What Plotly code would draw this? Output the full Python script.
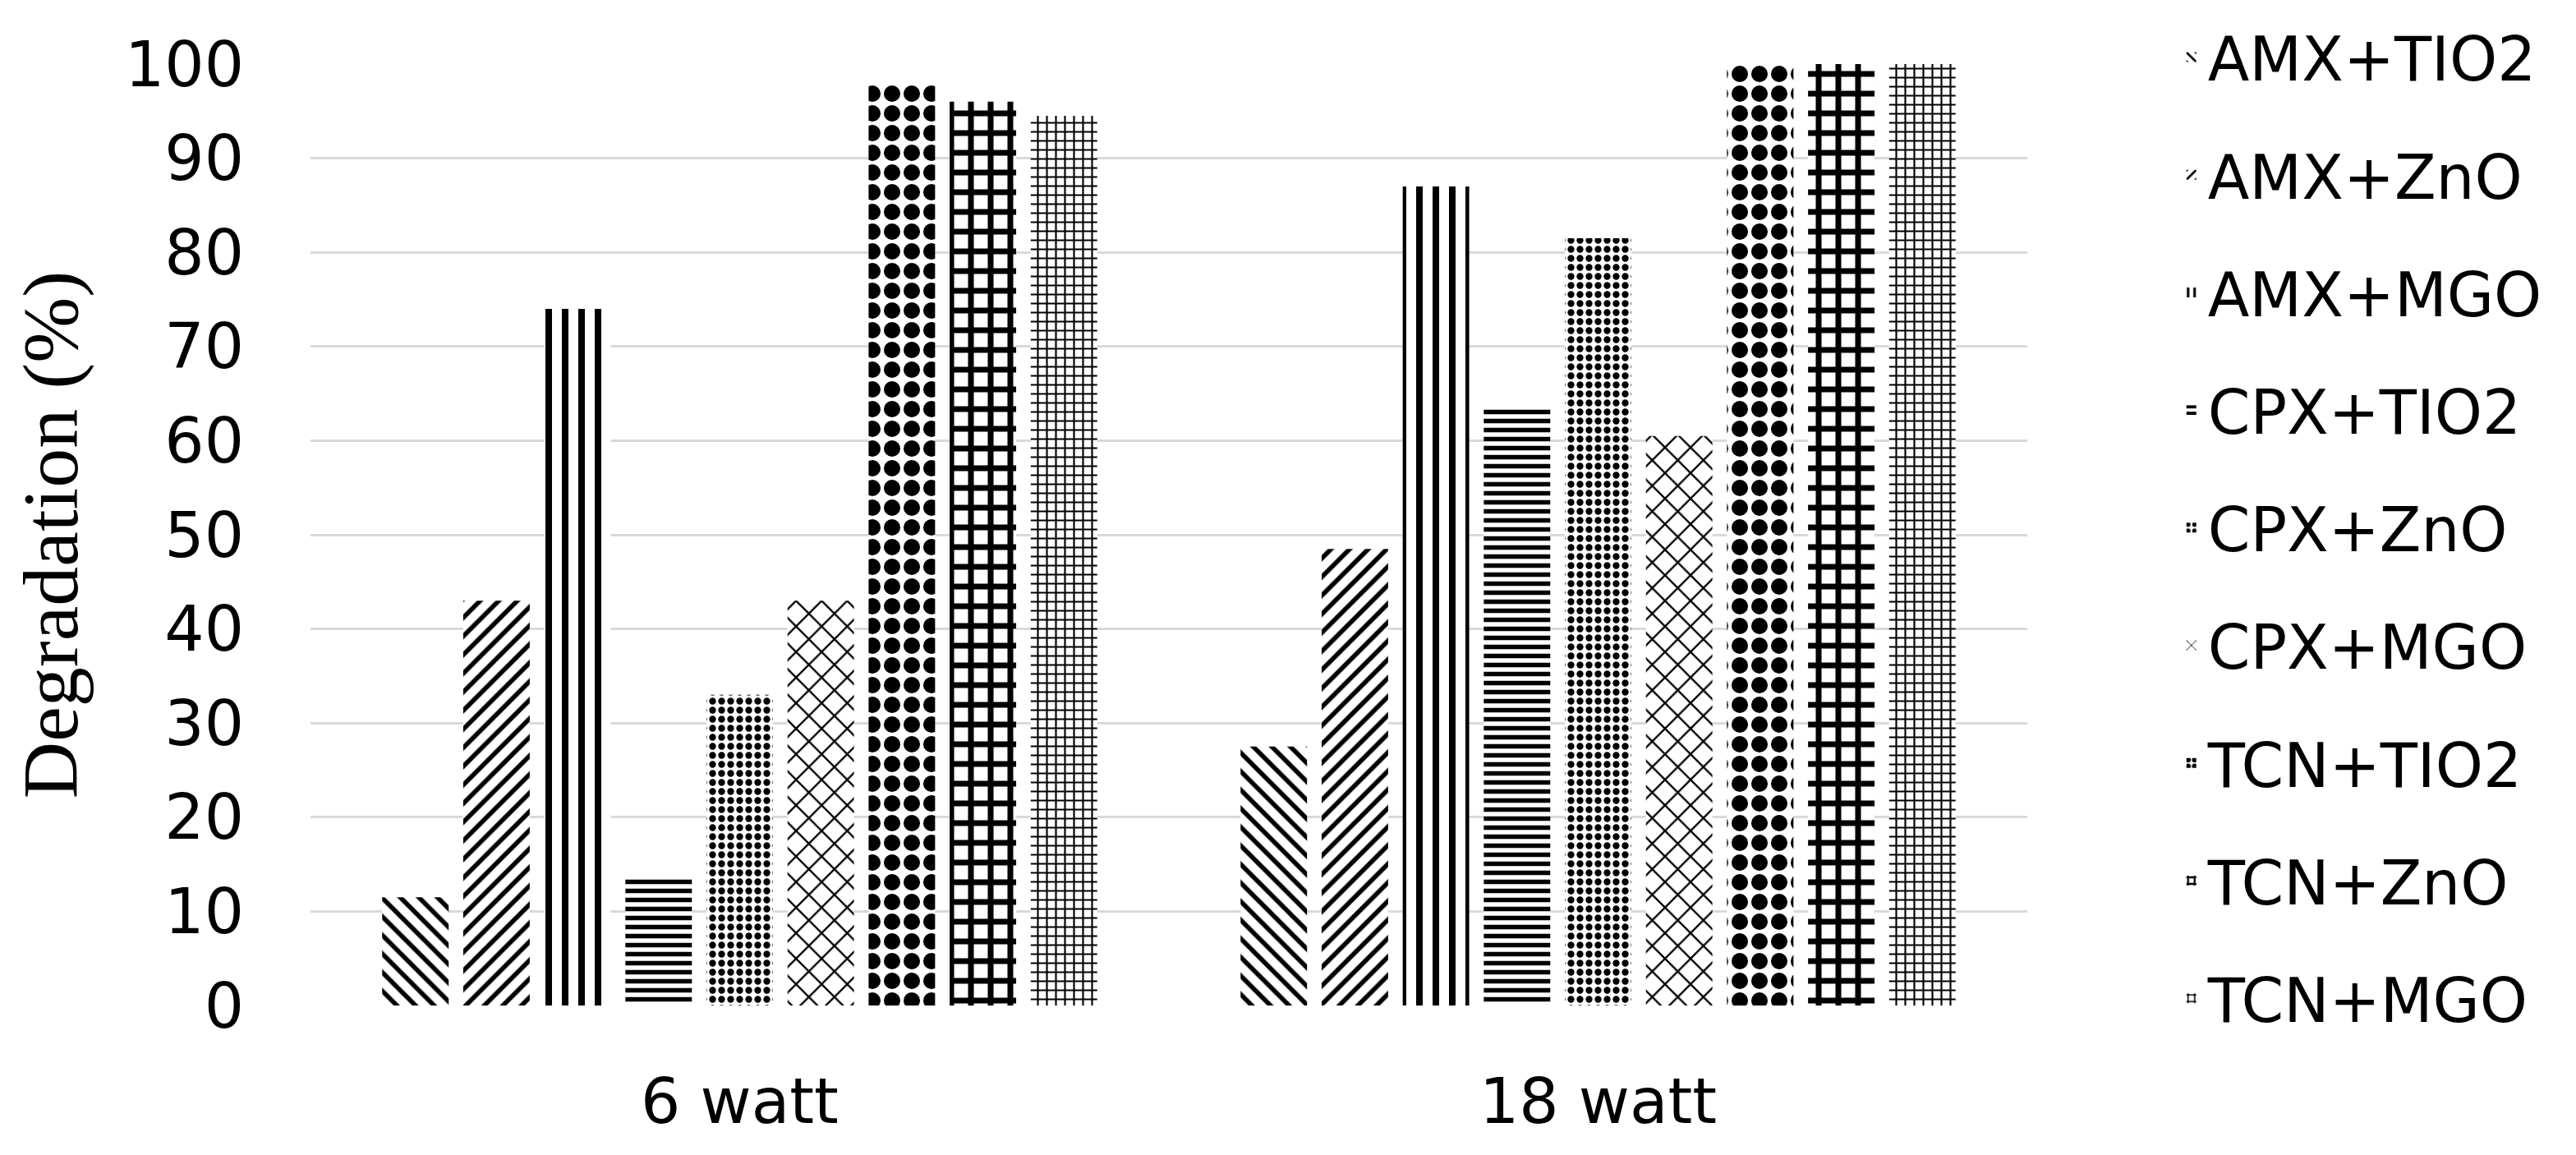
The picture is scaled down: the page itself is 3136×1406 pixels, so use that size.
import plotly.graph_objects as go

categories = ["6 watt", "18 watt"]
series_names = ["AMX+TIO2", "AMX+ZnO", "AMX+MGO", "CPX+TIO2", "CPX+ZnO",
                "CPX+MGO", "TCN+TIO2", "TCN+ZnO", "TCN+MGO"]
amx_tio2 = [11.5, 27.5]
amx_zno = [43, 48.5]
amx_mgo = [74, 87]
cpx_tio2 = [13.5, 63.5]
cpx_zno = [33, 81.5]
cpx_mgo = [43, 60.5]
tcn_tio2 = [98, 100]
tcn_zno = [96, 100]
tcn_mgo = [94.5, 100]
y_ticks = [0, 10, 20, 30, 40, 50, 60, 70, 80, 90, 100]

values = [amx_tio2, amx_zno, amx_mgo, cpx_tio2, cpx_zno, cpx_mgo, tcn_tio2, tcn_zno, tcn_mgo]
patterns = [
    dict(shape="\\", size=16, solidity=0.35),
    dict(shape="/", size=16, solidity=0.35),
    dict(shape="|", size=20, solidity=0.4),
    dict(shape="-", size=11, solidity=0.5),
    dict(shape=".", size=11, solidity=0.45),
    dict(shape="x", size=22, solidity=0.2),
    dict(shape=".", size=24, solidity=0.55),
    dict(shape="+", size=24, solidity=0.5),
    dict(shape="+", size=11, solidity=0.35),
]

fig = go.Figure()
for name, vals, pat in zip(series_names, values, patterns):
    fig.add_trace(go.Bar(
        x=categories, y=vals, name=name, legendgroup=name,
        marker=dict(color="white", line=dict(width=0),
                    pattern=dict(fgcolor="black", bgcolor="white", fillmode="replace", **pat)),
    ))

fig.update_layout(
    width=3136, height=1406,
    paper_bgcolor="white", plot_bgcolor="white",
    margin=dict(l=370, r=676, t=70, b=190, autoexpand=False),
    barmode="group", bargap=0.15, bargroupgap=0.18,
    font=dict(family="DejaVu Sans", color="black"),
    legend=dict(x=1.086, y=1.055, xanchor="left", yanchor="top",
                font=dict(size=74, family="DejaVu Sans", color="black"),
                tracegroupgap=44, itemwidth=30, maxheight=1400),
    showlegend=True,
)
fig.update_yaxes(range=[0, 100], tickvals=y_ticks, showgrid=True, gridcolor="#d9d9d9",
                 gridwidth=3, zeroline=False, showline=False,
                 tickfont=dict(size=76, family="DejaVu Sans"), ticklabelstandoff=80,
                 title=dict(text="Degradation (%)", font=dict(size=96, family="Liberation Serif"), standoff=45))
fig.update_xaxes(showline=False, tickfont=dict(size=76, family="DejaVu Sans"), ticklabelstandoff=66)

fig.write_html("out.html")
